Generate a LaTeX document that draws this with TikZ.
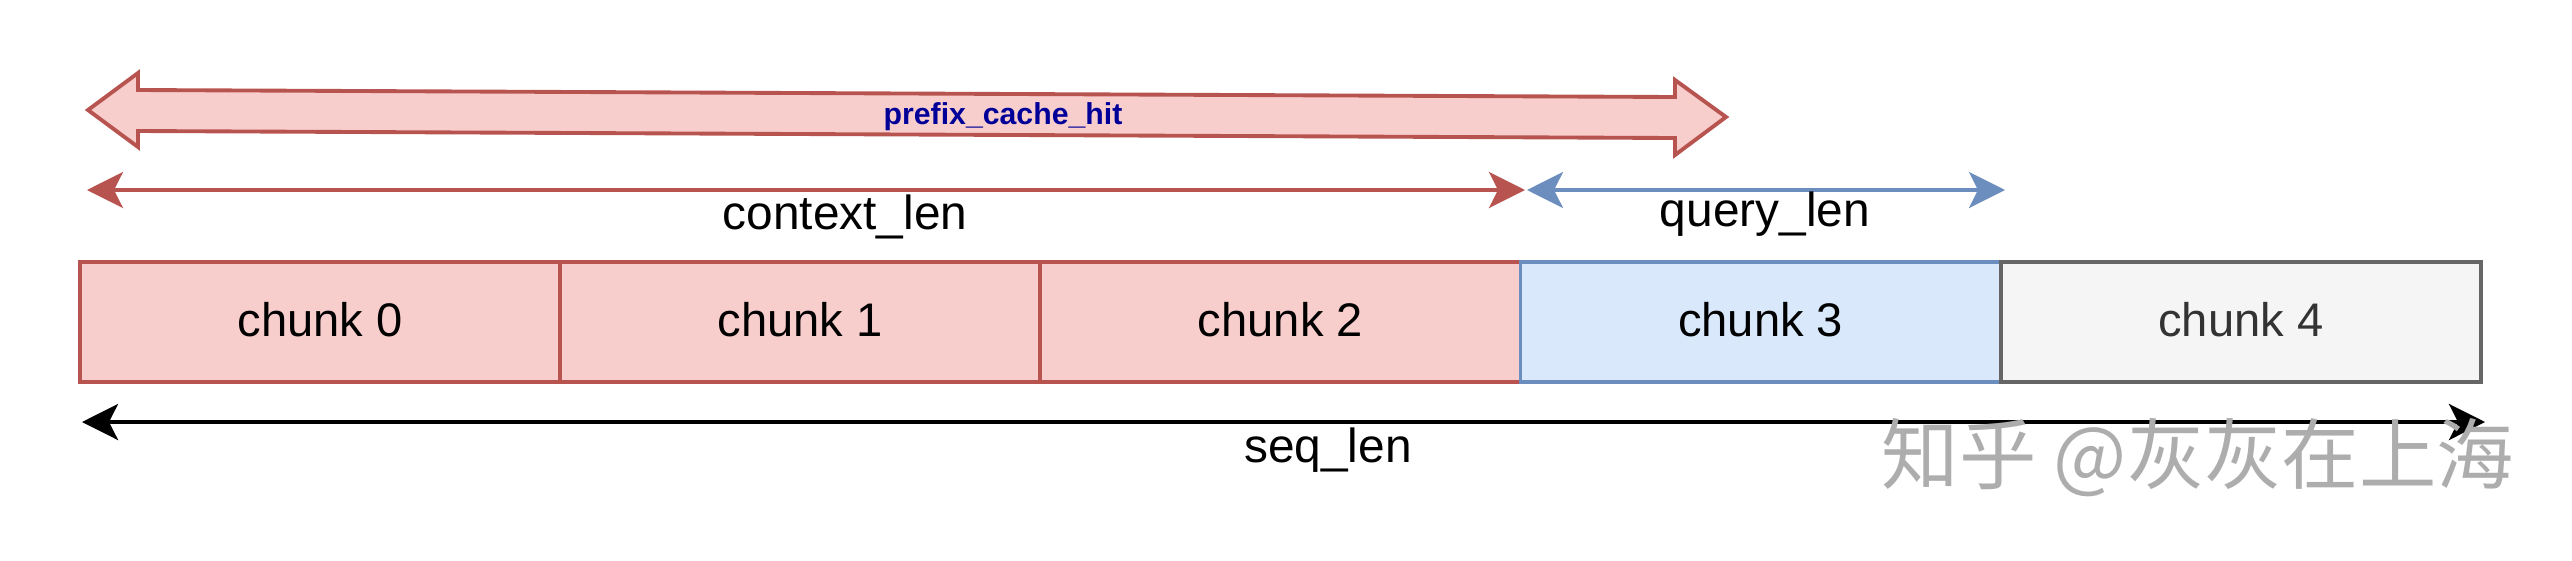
\documentclass[tikz,border=0pt]{standalone}
\usepackage{fontspec}
\setmainfont{Liberation Sans}
\newfontfamily\cjkfont{Noto Sans CJK SC}
\usetikzlibrary{arrows.meta,positioning}

\definecolor{redfill}{HTML}{F8CECC}
\definecolor{redline}{HTML}{B85450}
\definecolor{bluefill}{HTML}{DAE8FC}
\definecolor{blueline}{HTML}{6C8EBF}
\definecolor{grayfill}{HTML}{F5F5F5}
\definecolor{grayline}{HTML}{666666}
\definecolor{hitblue}{HTML}{000099}

\tikzset{
  chunkbox/.style={minimum width=4.802cm, minimum height=1.2cm, inner sep=0pt,
    line width=1.1pt, text depth=1.7pt, font=\fontsize{13.4}{16}\selectfont},
  lenarrow/.style={line width=1pt, {Stealth[length=0.36cm, width=0.36cm, inset=0.09cm]}-{Stealth[length=0.36cm, width=0.36cm, inset=0.09cm]}},
  lenlabel/.style={inner sep=0pt, font=\fontsize{13.6}{16}\selectfont},
}

\begin{document}
\begin{tikzpicture}[x=0.01cm, y=-0.01cm]
  \useasboundingbox (0,0) rectangle (2572,560);

  % -------- chunks --------
  \foreach \i in {0,1,2} {
    \node[chunkbox, fill=redfill, draw=redline] (c\i) at ({320.1+480.2*\i},322) {chunk \i};
  }
  \node[chunkbox, fill=bluefill, draw=blueline] (c3) at (1760.7,322) {chunk 3};
  \node[chunkbox, fill=grayfill, draw=grayline, text=black!80] (c4) at (2240.9,322) {chunk 4};

  % -------- prefix_cache_hit --------
  \filldraw[fill=redfill, draw=redline, line width=1.1pt, line join=miter]
    (88,110) -- (138,73) -- (138,90) -- (1675,97) -- (1675,80) -- (1726,117)
    -- (1675,155) -- (1675,138) -- (138,131) -- (138,147) -- cycle;
  \node[inner sep=0pt, text=hitblue, font=\fontsize{8.6}{10}\selectfont\bfseries] (hit) at (1003,117) {prefix\_cache\_hit};

  % -------- context_len / query_len --------
  \coordinate (ctxL) at (87,190);
  \coordinate (ctxR) at (1525,190);
  \coordinate (qryL) at (1527,190);
  \coordinate (qryR) at (2005,190);
  \draw[lenarrow, redline] (ctxL) -- (ctxR);
  \draw[lenarrow, blueline] (qryL) -- (qryR);
  \node[lenlabel] (ctx) at (845,217) {context\_len};
  \node[lenlabel] (qry) at (1765,214) {query\_len};

  % -------- seq_len --------
  \coordinate (seqL) at (82,422);
  \coordinate (seqR) at (2485,422);
  \draw[lenarrow, black, line width=1.1pt] (seqL) -- (seqR);
  \node[lenlabel] (seq) at (1328,450) {seq\_len};

  % -------- watermark --------
  \node[inner sep=0pt, text=black!32, font=\cjkfont\fontsize{22}{26}\selectfont] (mark) at (2198,458) {知乎 @灰灰在上海};
\end{tikzpicture}
\end{document}
